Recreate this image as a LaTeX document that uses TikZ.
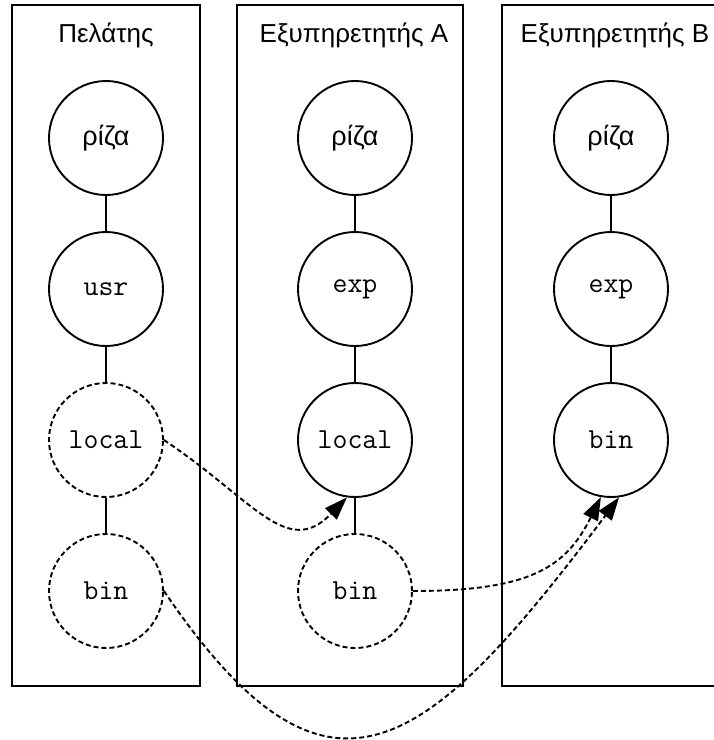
\documentclass[tikz,border=0pt]{standalone}
\usepackage{fontspec}
\setmainfont{Liberation Sans}
\usetikzlibrary{arrows.meta}
\begin{document}
\begin{tikzpicture}[x=1pt,y=-1pt,
  box/.style={draw, line width=1.9pt, rectangle, minimum height=681pt, inner sep=0pt},
  title/.style={anchor=base, font=\fontsize{26}{30}\selectfont, inner sep=0pt},
  dir/.style={draw, circle, line width=1.9pt, minimum size=114pt, inner sep=0pt, font=\fontsize{29}{32}\selectfont\ttfamily},
  rootdir/.style={dir, font=\fontsize{27}{30}\selectfont},
  ghost/.style={dash pattern=on 5pt off 3pt},
  link/.style={line width=1.9pt},
  mnt/.style={line width=1.9pt, dash pattern=on 5pt off 3pt, -{Triangle[length=23pt,width=16pt]}}
]
\clip (0,0) rectangle (714,740);
\fill[white] (0,0) rectangle (714,740);
% boxes
\node[box, minimum width=188pt] (box1) at (106,345.5) {};
\node[box, minimum width=226pt] (box2) at (350,345.5) {};
\node[box, minimum width=228pt] (box3) at (616,345.5) {};
% titles
\node[title] (t1) at (106,42) {Πελάτης};
\node[title] (t2) at (354,42) {Εξυπηρετητής A};
\node[title] (t3) at (615,42) {Εξυπηρετητής B};
% client
\node[rootdir] (r1) at (106,138) {ρίζα};
\node[dir] (u1) at (106,289) {usr};
\node[dir, ghost] (l1) at (106,440) {local};
\node[dir, ghost] (b1) at (106,591) {bin};
% server A
\node[rootdir] (r2) at (355,138) {ρίζα};
\node[dir] (e2) at (355,289) {exp};
\node[dir] (l2) at (355,440) {local};
\node[dir, ghost] (b2) at (355,591) {bin};
% server B
\node[rootdir] (r3) at (611,138) {ρίζα};
\node[dir] (e3) at (611,289) {exp};
\node[dir] (b3) at (611,440) {bin};
% tree edges
\draw[link] (r1) -- (u1);
\draw[link] (u1) -- (l1);
\draw[link] (l1) -- (b1);
\draw[link] (r2) -- (e2);
\draw[link] (e2) -- (l2);
\draw[link] (l2) -- (b2);
\draw[link] (r3) -- (e3);
\draw[link] (e3) -- (b3);
% mounts
\draw[mnt] (l1.east) .. controls +(90,60) and +(-60,62) .. (l2.-98);
\draw[mnt] (b2.east) .. controls +(118,0) and +(-35,70) .. (b3.-100);
\draw[mnt] (b1.east) .. controls +(164,242) and +(-194,258) .. (b3.-82);
\end{tikzpicture}
\end{document}
